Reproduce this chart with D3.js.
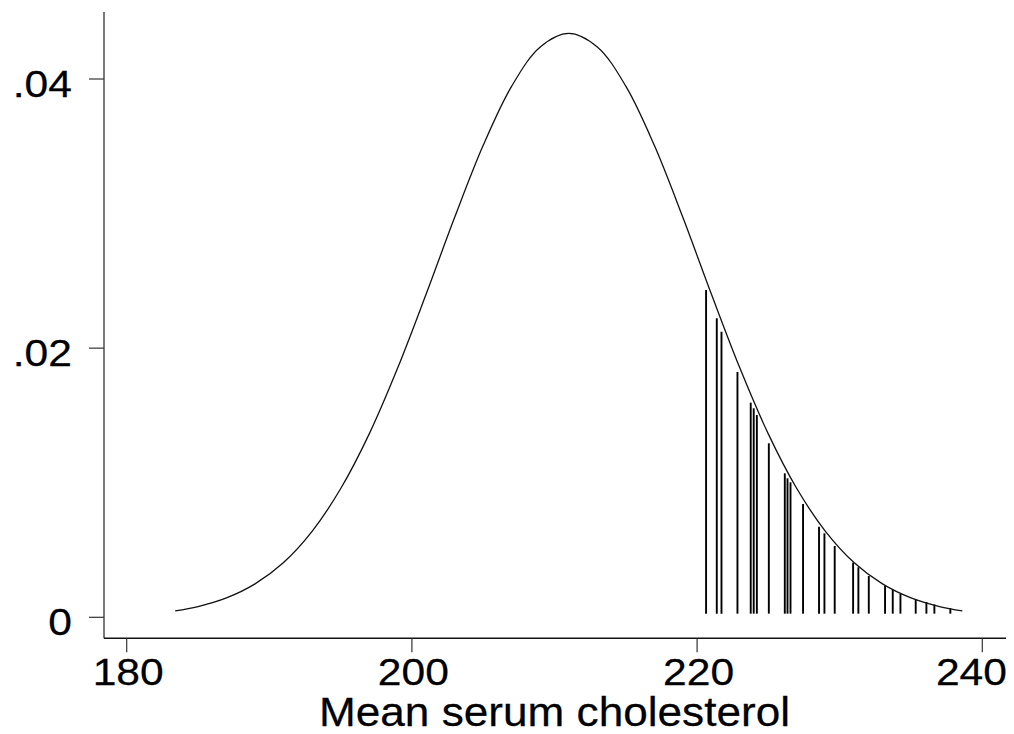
<!DOCTYPE html>
<html>
<head>
<meta charset="utf-8">
<script src="https://cdn.jsdelivr.net/npm/d3@7"></script>
<style>
  html, body { margin: 0; padding: 0; background: #fff; }
  svg { display: block; }
  text { font-family: "Liberation Sans", Arial, Helvetica, sans-serif; fill: #000; }
</style>
</head>
<body>
<script>
// ---- data ----
const curveX = [183.4,185,187,189,191,193,195,197,199,201,203,205,207,209,211,213,215,217,219,221,223,225,227,229,231,233,235,237,238.6];
const curveDensity = [0.00048,0.00080,0.00144,0.00248,0.00407,0.00639,0.00955,0.01361,0.01852,0.02402,0.02972,0.03507,0.03947,0.04238,0.04339,0.04238,0.03947,0.03507,0.02972,0.02402,0.01852,0.01361,0.00955,0.00639,0.00407,0.00248,0.00144,0.00080,0.00048];
const spikeX = [220.63,221.38,221.71,222.83,223.76,223.97,224.19,225.03,226.15,226.34,226.55,227.43,228.55,228.93,229.65,230.94,231.31,232.04,233.18,233.72,234.26,235.33,236.08,236.64,237.76];
const spikeHeight = [0.02432,0.02222,0.02122,0.01823,0.01595,0.01553,0.01503,0.01293,0.01070,0.01033,0.01003,0.00842,0.00673,0.00624,0.00530,0.00406,0.00372,0.00307,0.00233,0.00203,0.00173,0.00136,0.00114,0.00095,0.00067];
const spikeBase = 0.00027;
const xTicks = [180, 200, 220, 240];
const yTicks = [0, 0.02, 0.04];
const yTickLabels = ["0", ".02", ".04"];
const xTitle = "Mean serum cholesterol";

// ---- layout ----
const W = 1014, H = 734;
const svg = d3.select("body").append("svg").attr("width", W).attr("height", H);

const x = d3.scaleLinear().domain([180, 240]).range([126.7, 982.3]);
const y = d3.scaleLinear().domain([0, 0.04]).range([617.3, 79]);

const axisX = 104;      // y-axis line position
const axisY = 638.3;    // x-axis line position
const axisTop = 12;
const axisRight = 1006;

// axes lines
svg.append("line").attr("x1", axisX).attr("x2", axisX).attr("y1", axisTop).attr("y2", axisY)
  .attr("stroke", "#333").attr("stroke-width", 1.3);
svg.append("line").attr("x1", axisX).attr("x2", axisRight).attr("y1", axisY).attr("y2", axisY)
  .attr("stroke", "#111").attr("stroke-width", 1.4);

// y ticks
const yt = svg.append("g").selectAll("g").data(yTicks).join("g")
  .attr("transform", d => `translate(0,${y(d)})`);
yt.append("line").attr("x1", axisX - 15).attr("x2", axisX).attr("stroke", "#333").attr("stroke-width", 1.2);
yt.append("g").attr("transform", "translate(72,17.5)")
  .append("text").attr("text-anchor", "end").attr("font-size", 37.7)
  .attr("stroke", "#000").attr("stroke-width", 0.25)
  .attr("transform", "scale(1.13,1)")
  .text((d, i) => yTickLabels[i]);

// x ticks
const xt = svg.append("g").selectAll("g").data(xTicks).join("g")
  .attr("transform", d => `translate(${x(d)},${axisY})`);
xt.append("line").attr("y1", 0).attr("y2", 14).attr("stroke", "#333").attr("stroke-width", 1.2);
const xLab = xt.append("g").attr("transform", "translate(1.5,46.5)");
xLab.append("text").attr("text-anchor", "middle").attr("font-size", 37.7)
  .attr("stroke", "#000").attr("stroke-width", 0.25)
  .attr("transform", "scale(1.13,1)")
  .text(d => d);
// keep the last label inside the page, as the reference does
xLab.each(function () {
  const r = this.getBoundingClientRect();
  const limit = W - 7;
  if (r.right > limit) {
    d3.select(this).attr("transform", `translate(${1.5 - (r.right - limit)},46.5)`);
  }
});

// x title
svg.append("g").attr("transform", `translate(${(x(180) + x(240)) / 2},725.5)`)
  .append("text").attr("text-anchor", "middle").attr("font-size", 40.5)
  .attr("stroke", "#000").attr("stroke-width", 0.25)
  .attr("transform", "scale(1.09,1)")
  .text(xTitle);

// spikes
svg.append("g").selectAll("line").data(spikeX).join("line")
  .attr("x1", d => x(d)).attr("x2", d => x(d))
  .attr("y1", y(spikeBase)).attr("y2", (d, i) => y(spikeHeight[i]))
  .attr("stroke", "#000").attr("stroke-width", 1.9);

// density curve
const line = d3.line().x((d, i) => x(curveX[i])).y(d => y(d)).curve(d3.curveCatmullRom.alpha(0.5));
svg.append("path").datum(curveDensity).attr("d", line)
  .attr("fill", "none").attr("stroke", "#111").attr("stroke-width", 1.3);
</script>
</body>
</html>
